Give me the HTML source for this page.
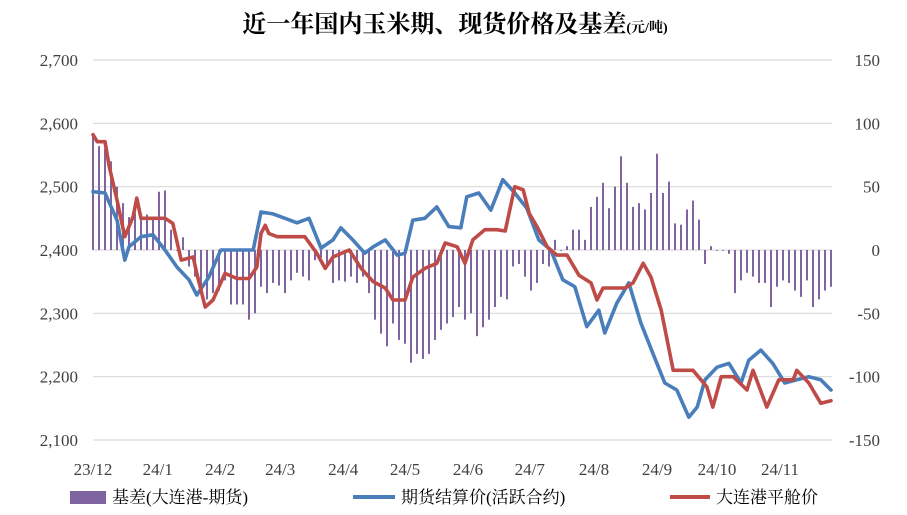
<!DOCTYPE html>
<html><head><meta charset="utf-8"><style>
body{margin:0;background:#fff;width:907px;height:515px;overflow:hidden}
svg{display:block}
text{font-family:"Liberation Serif","Noto Serif CJK SC",serif}
</style></head><body>
<svg id="chart" width="907" height="515" viewBox="0 0 907 515">
<text x="455" y="32" text-anchor="middle" font-size="24" font-weight="bold" fill="#000">近一年国内玉米期、现货价格及基差<tspan font-size="14">(元/吨)</tspan></text>
<g id="grid"></g><g id="bars"></g><g id="lines"></g><g id="axes"></g>
<g>
<rect x="70" y="491" width="36" height="13" fill="#8064a2"/>
<text x="112" y="503" font-size="17">基差(大连港-期货)</text>
<line x1="353" y1="497" x2="395" y2="497" stroke="#4a7ebb" stroke-width="4"/>
<text x="401" y="503" font-size="17">期货结算价(活跃合约)</text>
<line x1="670" y1="497" x2="710" y2="497" stroke="#be4b48" stroke-width="4"/>
<text x="716" y="503" font-size="17">大连港平舱价</text>
</g>
</svg>
<script>
const xLabels=["23/12","24/1","24/2","24/3","24/4","24/5","24/6","24/7","24/8","24/9","24/10","24/11"];
const xLabelIdx=[0,10.8,21.2,31.2,41.7,52,62.5,72.8,83.5,94,104,114.5];
const leftTicks=[2100,2200,2300,2400,2500,2600,2700];
const rightTicks=[-150,-100,-50,0,50,100,150];
const basis=[92,82,80,70,50,37,26,29,28,28,26,46,47,16,0,10,-13,-21,-29,-39,-34,-32,-24,-43,-43,-43,-55,-50,-29,-34,-26,-28,-34,-24,-18,-21,-24,-8,-6,-13,-26,-24,-25,-21,-26,-21,-34,-55,-66,-76,-58,-71,-74,-89,-82,-86,-82,-71,-63,-58,-53,-45,-55,-50,-68,-61,-55,-45,-37,-39,-13,-11,-21,-32,-26,-11,-13,8,0,3,16,16,8,34,42,53,33,50,74,53,34,37,32,45,76,45,54,21,20,32,39,24,-11,3,0,0,-3,-34,-24,-18,-21,-26,-26,-45,-29,-24,-26,-32,-37,-24,-45,-39,-32,-29];
const futIdx=[0,2,4,5.3,6,8,10,12,14,16,17.3,19.3,21.3,23.3,25.3,26.7,28,30,32,34,36,38,40,41.3,43.3,45.3,46.7,48.7,50.7,52,53.3,55.3,57.3,59.3,61.3,62.3,64.3,66.3,68.3,70.3,72.3,74.3,76.3,78.3,80.3,82.3,84.3,85.3,87.3,89.3,91.3,93.3,95.3,97.3,99.3,100.7,102,104,106,108,109.3,111.3,113.3,115.3,117.3,119.3,121.3,123];
const futures=[2492,2490,2447,2384,2405,2421,2424,2400,2373,2353,2329,2357,2400,2400,2400,2400,2460,2457,2450,2443,2450,2403,2416,2435,2416,2395,2405,2416,2392,2395,2447,2450,2468,2437,2435,2484,2490,2463,2511,2490,2466,2416,2400,2353,2342,2279,2305,2269,2316,2348,2285,2237,2190,2179,2136,2152,2195,2215,2221,2190,2226,2242,2221,2190,2195,2200,2195,2179];
const spotIdx=[0,0.7,2,2.7,4,5.3,6.7,7.3,8,10,12,13.3,14.7,16.7,17.3,18.7,20,22,24,26,27.3,28,28.7,29.3,30.7,33.3,35.3,37.3,38.7,40,42.7,44.7,46.7,48.7,50,52,53.3,55.3,57.3,58.7,60.7,62,63.3,65.3,67.3,68.7,70.3,71.7,72.7,74,75.7,77.3,79,81,83,84,85,88.7,90,91.7,93,94.7,96.7,100,102.3,103.3,104.7,106.7,109,110,112.3,114.3,116.7,117.3,119.3,121.3,123,124,125,126.3,123];
const spot=[2582,2571,2571,2532,2479,2421,2453,2482,2450,2450,2450,2442,2384,2389,2363,2310,2321,2363,2355,2355,2373,2426,2439,2426,2421,2421,2421,2395,2371,2389,2400,2371,2350,2340,2321,2321,2357,2371,2379,2411,2405,2379,2416,2432,2432,2430,2500,2495,2458,2437,2405,2392,2392,2360,2348,2321,2340,2340,2348,2379,2357,2305,2210,2210,2184,2152,2200,2200,2179,2210,2152,2195,2195,2210,2190,2158,2162,2168,2160,2152,2152].slice(0,81);
const X0=93,STEP=6,TOP=60,BOT=440;
const ns="http://www.w3.org/2000/svg";
const xOf=i=>X0+i*STEP;
const yL=v=>TOP+(2700-v)*(BOT-TOP)/600;
const yR=v=>TOP+(150-v)*(BOT-TOP)/300;
function mk(tag,attrs,parent){const e=document.createElementNS(ns,tag);for(const k in attrs)e.setAttribute(k,attrs[k]);parent.appendChild(e);return e;}
const grid=document.getElementById('grid'),axes=document.getElementById('axes');
leftTicks.forEach(t=>{
 const l=mk('line',{x1:X0,x2:832,y1:yL(t),y2:yL(t),stroke:'#d9d9d9','stroke-width':1.2},grid);
 
 
 const tx=mk('text',{x:78,y:yL(t)+6,'text-anchor':'end','font-size':17,fill:'#404040'},axes);
 tx.textContent=t.toLocaleString('en-US').replace(',',',');
 
 
});
rightTicks.forEach(t=>{
 const tx=mk('text',{x:880,y:yR(t)+6,'text-anchor':'end','font-size':17,fill:'#404040'},axes);
 tx.textContent=t;
 
 
});
xLabels.forEach((s,k)=>{
 const tx=mk('text',{x:xOf(xLabelIdx[k]),y:475,'text-anchor':'middle','font-size':17,fill:'#404040'},axes);
 tx.textContent=s;
 
 
});
const bars=document.getElementById('bars');
basis.forEach((b,i)=>{
 const y0=yR(0),y1=yR(b);
 const r=mk('rect',{x:xOf(i)-1,y:Math.min(y0,y1),width:2,height:Math.max(0.8,Math.abs(y1-y0)),fill:'#8064a2'},bars);
 
 
});
const lines=document.getElementById('lines');
function path(idx,vals,color,name){
 const n=Math.min(idx.length,vals.length);
 let d='';for(let i=0;i<n;i++)d+=(i?'L':'M')+xOf(idx[i]).toFixed(1)+','+yL(vals[i]).toFixed(1);
 const p=mk('path',{d:d,fill:'none',stroke:color,'stroke-width':3.6,'stroke-linejoin':'round','stroke-linecap':'round'},lines);
 
 
}
path(futIdx,futures,'#4a7ebb','futures-line');
const sIdx=spotIdx.slice(0,77),sVal=spot.slice(0,77);
path(sIdx,sVal,'#be4b48','spot-line');
</script>
</body></html>
